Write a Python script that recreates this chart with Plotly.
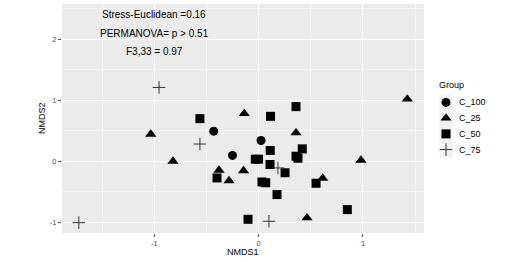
import plotly.graph_objects as go

# NMDS scores by group
c100_x = [-0.431, 0.023, -0.251]
c100_y = [0.493, 0.340, 0.095]

c25_x = [-0.138, -1.034, -0.821, -0.380, -0.145, -0.284, 0.358, 0.981, 0.614, 0.463, 1.425]
c25_y = [0.780, 0.443, 0.0, -0.148, -0.156, -0.320, 0.465, 0.016, -0.279, -0.928, 1.018]

c50_x = [-0.563, 0.358, 0.114, 0.418, 0.111, 0.358, 0.377, -0.032, -0.001, 0.109,
         0.253, 0.032, 0.068, 0.550, 0.176, 0.850, -0.102, -0.399]
c50_y = [0.698, 0.895, 0.736, 0.202, 0.176, 0.082, 0.049, 0.033, 0.033, -0.054,
         -0.189, -0.340, -0.353, -0.361, -0.547, -0.793, -0.952, -0.274]

c75_x = [-0.955, -0.563, -1.724, 0.185, 0.099]
c75_y = [1.21, 0.282, -1.007, -0.110, -0.985]

group_names = ["C_100", "C_25", "C_50", "C_75"]
x_ticks = [-1, 0, 1]
y_ticks = [-1, 0, 1, 2]
stats_text = ["Stress-Euclidean =0.16", "PERMANOVA= p > 0.51", "F3,33 = 0.97"]
stats_y = [2.4, 2.1, 1.8]

FONT = "Liberation Sans, Arial, sans-serif"
W, H = 528, 262
ML, MT, MB = 62, 4, 29.3
PANEL_W = 362
PLOT_W = W - ML
PLOT_H = H - MT - MB
D = PANEL_W / PLOT_W

symbols = ["circle", "triangle-up", "square", "cross-thin"]
sizes = [9, 9.8, 9, 9]
colors = ["black", "black", "black", "#333333"]
xs = [c100_x, c25_x, c50_x, c75_x]
ys = [c100_y, c25_y, c50_y, c75_y]

fig = go.Figure()
for name, sx, sy, sym, sz, col in zip(group_names, xs, ys, symbols, sizes, colors):
    fig.add_trace(go.Scatter(x=sx, y=sy, mode="markers", name=name, showlegend=False,
                             xaxis="x", yaxis="y",
                             marker=dict(symbol=sym, size=sz, color=col,
                                         line=dict(width=1, color=col) if sym == "cross-thin" else dict(width=0))))

# custom legend (keys drawn in a pixel-scaled auxiliary axis)
LEG_X_KEY = 446
LEG_Y0 = 102.3
LEG_DY = 15.7
key_y = [LEG_Y0 + i * LEG_DY for i in range(len(group_names))]
for i, (name, sym, sz, col) in enumerate(zip(group_names, symbols, sizes, colors)):
    fig.add_shape(type="rect", xref="x2", yref="y2", x0=LEG_X_KEY - 6.5, x1=LEG_X_KEY + 6.5,
                  y0=key_y[i] - 7.8, y1=key_y[i] + 7.8, fillcolor="#F2F2F2", line=dict(width=0),
                  layer="below")
    fig.add_trace(go.Scatter(x=[LEG_X_KEY], y=[key_y[i]], mode="markers", showlegend=False,
                             xaxis="x2", yaxis="y2", hoverinfo="skip",
                             marker=dict(symbol=sym, size=sz, color=col,
                                         line=dict(width=1, color=col) if sym == "cross-thin" else dict(width=0))))
    fig.add_annotation(xref="x2", yref="y2", x=LEG_X_KEY + 11, y=key_y[i], text=name,
                       showarrow=False, xanchor="left", yanchor="middle",
                       font=dict(size=9, color="black", family=FONT))
fig.add_annotation(xref="x2", yref="y2", x=LEG_X_KEY - 9, y=85, text="Group",
                   showarrow=False, xanchor="left", yanchor="middle",
                   font=dict(size=9, color="black", family=FONT))

# panel background
fig.add_shape(type="rect", xref="x domain", yref="y domain", x0=0, x1=1, y0=0, y1=1,
              fillcolor="#EBEBEB", line=dict(width=0), layer="below")

for t, yy in zip(stats_text, stats_y):
    fig.add_annotation(x=-1, y=yy, text=t, showarrow=False,
                       font=dict(size=10, color="black", family=FONT),
                       xanchor="center", yanchor="middle")

# axis titles
fig.add_annotation(xref="paper", yref="paper", x=D / 2, y=(-(251.7 - (MT + PLOT_H))) / PLOT_H,
                   text="NMDS1", showarrow=False, xanchor="center", yanchor="middle",
                   font=dict(size=9, color="black", family=FONT))
fig.add_annotation(xref="paper", yref="paper", x=(41.5 - ML) / PLOT_W, y=0.5,
                   text="NMDS2", showarrow=False, textangle=-90, xanchor="center", yanchor="middle",
                   font=dict(size=9, color="black", family=FONT))

axis_common = dict(
    showgrid=True, gridcolor="white", gridwidth=1.2,
    zeroline=False, showline=False, automargin=False,
    ticks="outside", ticklen=3, tickcolor="#555555", tickwidth=1,
    tickfont=dict(size=7.5, color="#4D4D4D", family=FONT),
    minor=dict(dtick=0.5, showgrid=True, gridcolor="#F5F5F5", gridwidth=0.6, ticks=""),
)

fig.update_layout(
    width=W, height=H,
    margin=dict(l=ML, r=0, t=MT, b=MB),
    paper_bgcolor="white", plot_bgcolor="white",
    font=dict(family=FONT, color="black"),
    xaxis=dict(domain=[0, D], range=[-1.885, 1.585], tickvals=x_ticks,
               ticktext=[str(v) for v in x_ticks], **axis_common),
    yaxis=dict(domain=[0, 1], range=[-1.177, 2.578], tickvals=y_ticks,
               ticktext=[str(v) for v in y_ticks], **axis_common),
    xaxis2=dict(domain=[D, 1], range=[ML + PANEL_W, W], visible=False, fixedrange=True),
    yaxis2=dict(domain=[0, 1], range=[MT + PLOT_H, MT], visible=False, anchor="x2", fixedrange=True),
    showlegend=False,
)

fig.write_html("out.html", config={"displayModeBar": False},
               post_script="document.body.style.margin='0px';")
